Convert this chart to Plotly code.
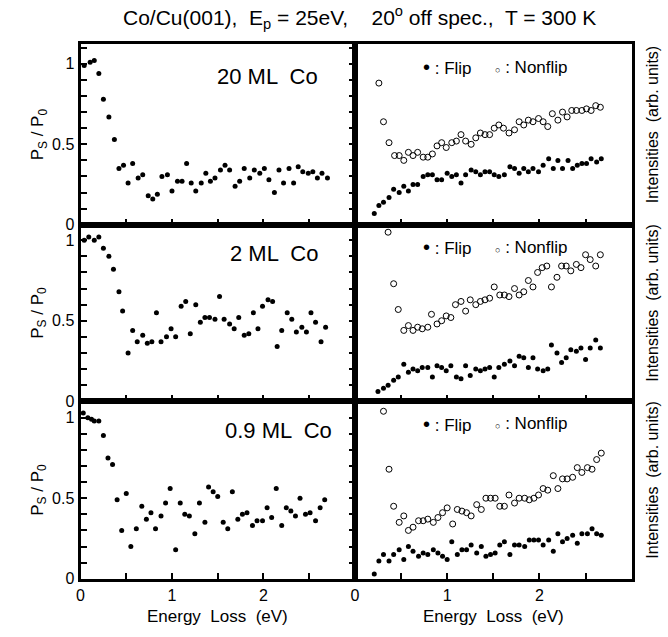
import plotly.graph_objects as go

# ---------------- data ----------------
# 20 ML Co
e20_ratio = [0.04,0.105,0.15,0.2,0.25,0.31,0.37,0.42,0.47,0.52,0.57,0.63,0.68,0.74,0.79,0.84,0.89,0.95,1.0,1.06,1.11,1.16,1.21,1.26,1.32,1.37,1.42,1.47,1.53,1.58,1.63,1.69,1.74,1.79,1.85,1.90,1.96,2.01,2.06,2.12,2.17,2.22,2.28,2.33,2.38,2.43,2.49,2.54,2.59,2.64,2.70]
r20 = [0.99,1.01,1.02,0.94,0.78,0.67,0.53,0.35,0.37,0.26,0.38,0.29,0.31,0.18,0.16,0.19,0.30,0.31,0.21,0.27,0.27,0.38,0.26,0.21,0.26,0.32,0.27,0.29,0.34,0.37,0.34,0.24,0.27,0.35,0.29,0.34,0.32,0.35,0.28,0.20,0.34,0.26,0.35,0.26,0.36,0.33,0.32,0.33,0.29,0.32,0.29]
e20_nonflip = [0.26,0.31,0.37,0.43,0.48,0.53,0.58,0.63,0.68,0.74,0.79,0.84,0.89,0.94,0.99,1.05,1.10,1.15,1.20,1.26,1.31,1.36,1.41,1.46,1.51,1.56,1.61,1.67,1.73,1.78,1.83,1.88,1.93,1.99,2.04,2.09,2.14,2.20,2.25,2.30,2.35,2.40,2.46,2.51,2.56,2.61,2.66]
nf20 = [0.88,0.64,0.51,0.43,0.43,0.40,0.45,0.43,0.45,0.42,0.42,0.44,0.49,0.51,0.48,0.51,0.52,0.56,0.52,0.50,0.54,0.57,0.56,0.56,0.60,0.62,0.60,0.57,0.59,0.64,0.62,0.65,0.64,0.66,0.64,0.61,0.69,0.65,0.70,0.67,0.71,0.71,0.71,0.72,0.71,0.74,0.73]
e20_flip = [0.21,0.26,0.31,0.37,0.42,0.48,0.53,0.58,0.63,0.68,0.74,0.79,0.84,0.89,0.94,1.00,1.05,1.10,1.15,1.20,1.26,1.31,1.36,1.41,1.46,1.51,1.56,1.62,1.68,1.73,1.78,1.83,1.88,1.93,1.99,2.04,2.10,2.15,2.20,2.25,2.31,2.36,2.41,2.46,2.51,2.56,2.62,2.67]
f20 = [0.07,0.12,0.14,0.17,0.22,0.20,0.24,0.21,0.25,0.25,0.30,0.31,0.31,0.28,0.28,0.32,0.30,0.31,0.26,0.31,0.34,0.33,0.31,0.33,0.33,0.31,0.30,0.31,0.36,0.35,0.32,0.35,0.33,0.35,0.33,0.37,0.41,0.35,0.40,0.35,0.40,0.35,0.37,0.38,0.38,0.41,0.39,0.41]

# 2 ML Co
e2_ratio = [0.04,0.09,0.15,0.20,0.25,0.31,0.36,0.42,0.46,0.52,0.57,0.62,0.68,0.73,0.78,0.83,0.88,0.94,0.99,1.04,1.10,1.15,1.20,1.26,1.31,1.36,1.41,1.47,1.52,1.57,1.63,1.68,1.73,1.79,1.84,1.89,1.94,1.99,2.05,2.10,2.15,2.20,2.26,2.31,2.36,2.42,2.47,2.52,2.57,2.63,2.68]
r2 = [1.00,1.02,1.00,1.02,0.95,0.90,0.82,0.68,0.56,0.30,0.44,0.37,0.41,0.36,0.37,0.55,0.37,0.40,0.45,0.40,0.59,0.62,0.42,0.60,0.49,0.52,0.52,0.51,0.65,0.51,0.48,0.45,0.52,0.41,0.42,0.55,0.45,0.59,0.63,0.62,0.34,0.44,0.55,0.51,0.43,0.46,0.43,0.55,0.49,0.37,0.46]
e2_nonflip = [0.36,0.42,0.47,0.53,0.58,0.63,0.68,0.73,0.79,0.83,0.89,0.94,0.99,1.04,1.09,1.15,1.20,1.25,1.31,1.36,1.41,1.46,1.51,1.57,1.62,1.67,1.73,1.78,1.83,1.88,1.93,1.98,2.03,2.08,2.13,2.19,2.24,2.29,2.34,2.40,2.45,2.50,2.55,2.61,2.66]
nf2 = [1.05,0.73,0.57,0.44,0.47,0.44,0.46,0.45,0.46,0.54,0.48,0.50,0.53,0.52,0.60,0.62,0.56,0.63,0.60,0.62,0.63,0.64,0.71,0.66,0.66,0.65,0.70,0.66,0.68,0.75,0.71,0.80,0.83,0.84,0.71,0.77,0.84,0.84,0.81,0.85,0.83,0.91,0.88,0.84,0.91]
e2_flip = [0.25,0.31,0.36,0.42,0.47,0.53,0.58,0.63,0.68,0.73,0.79,0.84,0.89,0.94,0.99,1.04,1.10,1.15,1.20,1.25,1.31,1.36,1.41,1.46,1.51,1.56,1.62,1.68,1.73,1.78,1.83,1.88,1.93,1.98,2.04,2.09,2.13,2.19,2.24,2.29,2.34,2.40,2.45,2.50,2.55,2.61,2.66]
f2 = [0.06,0.08,0.10,0.13,0.15,0.23,0.18,0.20,0.19,0.21,0.21,0.15,0.22,0.21,0.19,0.22,0.15,0.14,0.22,0.16,0.20,0.19,0.20,0.21,0.15,0.21,0.23,0.25,0.22,0.28,0.27,0.21,0.27,0.20,0.19,0.20,0.35,0.30,0.24,0.27,0.32,0.31,0.33,0.26,0.33,0.38,0.33]

# 0.9 ML Co
e09_ratio = [0.03,0.08,0.12,0.15,0.20,0.25,0.30,0.35,0.40,0.45,0.50,0.55,0.61,0.67,0.72,0.77,0.82,0.88,0.93,0.98,1.04,1.09,1.14,1.19,1.25,1.30,1.36,1.40,1.45,1.50,1.56,1.61,1.66,1.72,1.77,1.82,1.88,1.93,1.99,2.04,2.09,2.14,2.20,2.25,2.30,2.35,2.40,2.46,2.51,2.57,2.62,2.67]
r09 = [1.03,1.00,0.99,0.98,0.98,0.89,0.75,0.71,0.49,0.30,0.53,0.20,0.31,0.45,0.37,0.41,0.31,0.39,0.47,0.56,0.18,0.47,0.40,0.39,0.28,0.47,0.35,0.57,0.54,0.51,0.35,0.31,0.54,0.37,0.40,0.41,0.33,0.36,0.36,0.44,0.38,0.56,0.33,0.44,0.42,0.39,0.50,0.40,0.41,0.36,0.44,0.49]
e09_nonflip = [0.31,0.37,0.42,0.48,0.53,0.58,0.63,0.69,0.74,0.79,0.85,0.90,0.95,1.00,1.06,1.11,1.16,1.21,1.26,1.32,1.37,1.42,1.47,1.52,1.57,1.62,1.67,1.73,1.78,1.84,1.89,1.94,1.99,2.04,2.09,2.15,2.20,2.25,2.30,2.36,2.41,2.46,2.52,2.57,2.62,2.67]
nf09 = [1.04,0.68,0.45,0.35,0.39,0.30,0.32,0.36,0.36,0.37,0.35,0.38,0.41,0.44,0.34,0.43,0.42,0.41,0.39,0.46,0.43,0.50,0.50,0.50,0.45,0.45,0.52,0.47,0.50,0.50,0.49,0.50,0.52,0.56,0.55,0.64,0.56,0.62,0.62,0.63,0.69,0.66,0.69,0.68,0.74,0.78]
e09_flip = [0.21,0.26,0.31,0.37,0.42,0.48,0.53,0.58,0.63,0.69,0.74,0.79,0.85,0.90,0.95,1.00,1.05,1.11,1.16,1.21,1.26,1.32,1.37,1.42,1.47,1.52,1.57,1.62,1.68,1.73,1.78,1.84,1.89,1.94,1.99,2.04,2.10,2.15,2.20,2.25,2.30,2.36,2.41,2.46,2.52,2.57,2.62,2.67]
f09 = [0.03,0.11,0.15,0.11,0.15,0.18,0.12,0.20,0.17,0.14,0.16,0.15,0.18,0.16,0.14,0.12,0.23,0.15,0.18,0.18,0.21,0.16,0.20,0.14,0.15,0.16,0.21,0.23,0.15,0.21,0.21,0.20,0.24,0.24,0.24,0.21,0.24,0.17,0.28,0.23,0.25,0.27,0.22,0.28,0.28,0.31,0.28,0.27]

panel_labels = ["20 ML  Co", "2 ML  Co", "0.9 ML  Co"]
x_tick_vals = [0, 1, 2]
x_tick_text = ["0", "1", "2"]
y_tick_vals = [0, 0.5, 1.0]
y_tick_text = ["0", "0.5", "1"]

# ---------------- layout geometry ----------------
W, H = 668, 637
FONT = "Liberation Sans, Arial, sans-serif"
xl = (77 / W, 353 / W)
xr = (353 / W, 631.5 / W)
rows_px = [(45, 228), (228, 407), (407, 587)]
px_per_unit = 163.3
rows = [(1 - b / H, 1 - t / H) for t, b in rows_px]
yranges = [(b - t) / px_per_unit for t, b in rows_px]


def ax(n):
    return "" if n == 1 else str(n)


fig = go.Figure()

ratio_sets = [(e20_ratio, r20), (e2_ratio, r2), (e09_ratio, r09)]
int_sets = [(e20_flip, f20, e20_nonflip, nf20), (e2_flip, f2, e2_nonflip, nf2), (e09_flip, f09, e09_nonflip, nf09)]

dot = dict(color="black", size=5)
ring = dict(color="black", size=6, symbol="circle-open", line=dict(width=1, color="black"))

for i in range(3):
    la = 2 * i + 1
    ra = 2 * i + 2
    xs, ys = ratio_sets[i]
    fig.add_trace(go.Scatter(x=xs, y=ys, mode="markers", marker=dot,
                             xaxis="x" + ax(la), yaxis="y" + ax(la), showlegend=False))
    ef, vf, en, vn = int_sets[i]
    fig.add_trace(go.Scatter(x=en, y=vn, mode="markers", marker=ring,
                             xaxis="x" + ax(ra), yaxis="y" + ax(ra), showlegend=False))
    fig.add_trace(go.Scatter(x=ef, y=vf, mode="markers", marker=dot,
                             xaxis="x" + ax(ra), yaxis="y" + ax(ra), showlegend=False))

tick_style = dict(ticks="inside", ticklen=6, tickwidth=1.5, tickcolor="black")

layout = {}
for i in range(3):
    la = 2 * i + 1
    ra = 2 * i + 2
    bottom = (i == 2)
    common_x = dict(range=[0, 3], showgrid=False, zeroline=False, showline=True,
                    linecolor="black", linewidth=3, mirror=True,
                    tickvals=x_tick_vals, ticktext=x_tick_text,
                    showticklabels=bottom,
                    minor=dict(dtick=0.5, tick0=0, **tick_style, showgrid=False),
                    tickfont=dict(family=FONT, size=16, color="black"), **tick_style)
    layout["xaxis" + ax(la)] = dict(common_x, domain=list(xl), anchor="y" + ax(la))
    layout["xaxis" + ax(ra)] = dict(common_x, domain=list(xr), anchor="y" + ax(ra))
    layout["yaxis" + ax(la)] = dict(range=[0, yranges[i]], domain=list(rows[i]), anchor="x" + ax(la),
                                    showgrid=False, zeroline=False, showline=True,
                                    linecolor="black", linewidth=3, mirror="allticks",
                                    tickvals=y_tick_vals, ticktext=y_tick_text,
                                    minor=dict(dtick=0.1, tick0=0, **tick_style, showgrid=False),
                                    tickfont=dict(family=FONT, size=16, color="black"), **tick_style)
    layout["yaxis" + ax(ra)] = dict(range=[0, yranges[i]], domain=list(rows[i]), anchor="x" + ax(ra),
                                    showgrid=False, zeroline=False, showline=True,
                                    linecolor="black", linewidth=3, mirror=True,
                                    ticks="", showticklabels=False)

fig.update_layout(**layout)

ann = []
label_pos = [(0.873, 0.82), (0.873, 0.838), (0.924, 0.833)]
for i in range(3):
    la = 2 * i + 1
    ra = 2 * i + 2
    ymid = (rows[i][0] + rows[i][1]) / 2
    ann.append(dict(text=panel_labels[i], xref="x" + ax(la) + " domain", yref="y" + ax(la) + " domain",
                    x=label_pos[i][0], y=label_pos[i][1], xanchor="right", yanchor="middle",
                    showarrow=False, font=dict(family=FONT, size=22, color="black")))
    ly = 1 - 23 / (rows_px[i][1] - rows_px[i][0])
    ann.append(dict(text="<span style='font-size:20px'>\u2022</span> : Flip",
                    xref="x" + ax(ra) + " domain", yref="y" + ax(ra) + " domain",
                    x=(419 - 353) / 278, y=ly, xanchor="left", yanchor="middle",
                    showarrow=False, font=dict(family=FONT, size=17, color="black")))
    ann.append(dict(text="<span style='font-size:9px'>\u25cb</span> : Nonflip",
                    xref="x" + ax(ra) + " domain", yref="y" + ax(ra) + " domain",
                    x=(492 - 353) / 278, y=ly, xanchor="left", yanchor="middle",
                    showarrow=False, font=dict(family=FONT, size=17, color="black")))
    ann.append(dict(text="P<sub>S</sub> / P<sub>0</sub>", xref="paper", yref="paper",
                    x=35 / W, y=ymid, xanchor="center", yanchor="middle", textangle=-90,
                    showarrow=False, font=dict(family=FONT, size=17, color="black")))
    ann.append(dict(text="Intensities  (arb. units)", xref="paper", yref="paper",
                    x=652 / W, y=ymid + 0.015, xanchor="center", yanchor="middle", textangle=-90,
                    showarrow=False, font=dict(family=FONT, size=16, color="black")))

for xc in [(xl[0] + xl[1]) / 2, (xr[0] + xr[1]) / 2]:
    ann.append(dict(text="Energy  Loss  (eV)", xref="paper", yref="paper",
                    x=xc, y=1 - 625 / H, xanchor="center", yanchor="middle",
                    showarrow=False, font=dict(family=FONT, size=17, color="black")))

ann.append(dict(text="Co/Cu(001),  E<sub>p</sub> = 25eV,    20<sup>o</sup> off spec.,  T = 300 K",
                xref="paper", yref="paper", x=358 / W, y=1 - 18 / H,
                xanchor="center", yanchor="middle", showarrow=False,
                font=dict(family=FONT, size=21, color="black")))

fig.update_layout(annotations=ann, width=W, height=H,
                  margin=dict(l=0, r=0, t=0, b=0),
                  paper_bgcolor="white", plot_bgcolor="white",
                  showlegend=False)

fig.write_html("out.html")
